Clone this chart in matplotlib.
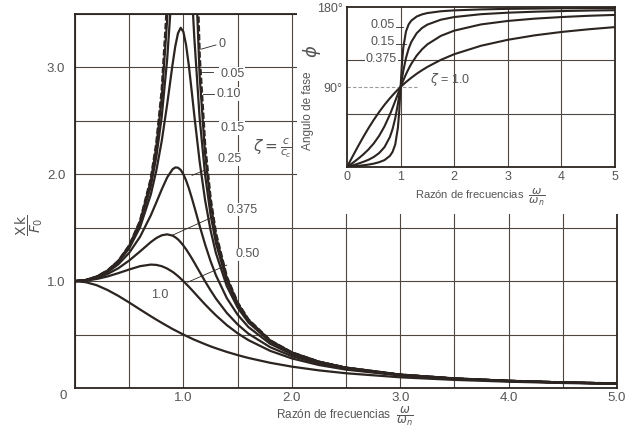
import numpy as np
import matplotlib.pyplot as plt

plt.rcParams['font.family'] = ['Liberation Sans', 'DejaVu Sans']
plt.rcParams['mathtext.fontset'] = 'dejavusans'

# razon de frecuencias (curvas de amplitud)
r_main = [0, 0.1, 0.2, 0.3, 0.4, 0.5, 0.6, 0.7, 0.75, 0.8, 0.85, 0.9, 0.925, 0.95, 0.975,
          1.0, 1.025, 1.05, 1.075, 1.1, 1.15, 1.2, 1.25, 1.3, 1.4, 1.5, 1.6, 1.8, 2.0,
          2.25, 2.5, 3.0, 3.5, 4.0, 4.5, 5.0]

amp_z0 = [1.000, 1.010, 1.042, 1.099, 1.190, 1.333, 1.563, 1.961, 2.286, 2.778, 3.604, 5.263,
          6.926, 10.26, 20.25, np.nan, 19.75, 9.756, 6.426, 4.762, 3.101, 2.273, 1.778, 1.449,
          1.042, 0.800, 0.641, 0.446, 0.333, 0.246, 0.190, 0.125, 0.089, 0.067, 0.052, 0.042]
amp_z005 = [1.000, 1.010, 1.041, 1.098, 1.189, 1.330, 1.556, 1.943, 2.253, 2.712, 3.446, 4.757,
            5.832, 7.346, 9.150, 10.00, 8.747, 6.815, 5.287, 4.218, 2.921, 2.193, 1.736, 1.424,
            1.031, 0.794, 0.638, 0.445, 0.333, 0.246, 0.190, 0.125, 0.089, 0.067, 0.052, 0.042]
amp_z010 = [1.000, 1.010, 1.041, 1.097, 1.185, 1.322, 1.536, 1.891, 2.162, 2.538, 3.073, 3.821,
            4.261, 4.683, 4.971, 5.000, 4.736, 4.279, 3.768, 3.288, 2.525, 1.995, 1.625, 1.356,
            1.000, 0.778, 0.628, 0.441, 0.330, 0.245, 0.190, 0.125, 0.089, 0.067, 0.052, 0.042]
amp_z015 = [1.000, 1.010, 1.040, 1.094, 1.179, 1.307, 1.504, 1.813, 2.033, 2.311, 2.653, 3.029,
            3.197, 3.320, 3.371, 3.333, 3.209, 3.019, 2.793, 2.557, 2.117, 1.759, 1.479, 1.262,
            0.954, 0.753, 0.613, 0.434, 0.327, 0.243, 0.189, 0.124, 0.089, 0.067, 0.052, 0.042]
amp_z025 = [1.000, 1.009, 1.036, 1.084, 1.158, 1.265, 1.415, 1.617, 1.736, 1.858, 1.970, 2.047,
            2.064, 2.062, 2.041, 2.000, 1.942, 1.870, 1.787, 1.699, 1.517, 1.344, 1.189, 1.055,
            0.842, 0.686, 0.570, 0.414, 0.316, 0.237, 0.185, 0.123, 0.088, 0.066, 0.052, 0.041]
amp_z0375 = [1.000, 1.007, 1.029, 1.067, 1.121, 1.193, 1.278, 1.366, 1.403, 1.429, 1.438, 1.426,
             1.411, 1.391, 1.364, 1.333, 1.298, 1.259, 1.218, 1.175, 1.086, 0.998, 0.915, 0.837,
             0.703, 0.595, 0.508, 0.382, 0.298, 0.227, 0.179, 0.120, 0.087, 0.065, 0.051, 0.041]
amp_z05 = [1.000, 1.005, 1.020, 1.044, 1.075, 1.109, 1.140, 1.155, 1.152, 1.140, 1.118, 1.087,
           1.068, 1.047, 1.024, 1.000, 0.974, 0.948, 0.921, 0.893, 0.837, 0.782, 0.730, 0.680,
           0.589, 0.512, 0.448, 0.348, 0.277, 0.215, 0.172, 0.117, 0.085, 0.064, 0.051, 0.041]
amp_z1 = [1.000, 0.990, 0.962, 0.917, 0.862, 0.800, 0.735, 0.671, 0.640, 0.610, 0.581, 0.552,
          0.539, 0.526, 0.513, 0.500, 0.488, 0.476, 0.464, 0.452, 0.431, 0.410, 0.390, 0.372,
          0.338, 0.308, 0.281, 0.236, 0.200, 0.165, 0.138, 0.100, 0.076, 0.059, 0.047, 0.038]

# angulo de fase (recuadro)
r_phase = [0, 0.1, 0.2, 0.3, 0.4, 0.5, 0.6, 0.7, 0.8, 0.85, 0.9, 0.95, 0.975, 1.0, 1.025,
           1.05, 1.1, 1.15, 1.2, 1.3, 1.4, 1.5, 1.75, 2.0, 2.5, 3.0, 3.5, 4.0, 4.5, 5.0]
phase_z005 = [0, 0.6, 1.2, 1.9, 2.7, 3.8, 5.4, 7.8, 12.5, 17.0, 25.3, 44.3, 63.1, 90, 116.3,
              134.3, 152.4, 160.4, 164.7, 169.3, 171.7, 173.2, 175.2, 176.2, 177.3, 177.9,
              178.2, 178.5, 178.7, 178.8]
phase_z015 = [0, 1.7, 3.6, 5.7, 8.1, 11.3, 15.7, 22.4, 33.7, 42.6, 54.9, 71.1, 80.4, 90, 99.4,
              108.0, 122.5, 133.1, 140.7, 150.5, 156.4, 160.2, 165.7, 168.7, 171.9, 173.6,
              174.7, 175.4, 176.0, 176.4]
phase_z0375 = [0, 4.3, 8.9, 13.9, 19.7, 26.6, 35.1, 45.8, 59.0, 66.5, 74.3, 82.2, 86.1, 90, 93.8,
               97.4, 104.3, 110.5, 116.1, 125.3, 132.4, 138.0, 147.5, 153.4, 160.4, 164.3,
               166.9, 168.7, 170.1, 171.1]
phase_z1 = [0, 11.4, 22.6, 33.4, 43.6, 53.1, 61.9, 70.0, 77.3, 80.7, 84.0, 87.1, 88.6, 90, 91.4,
            92.8, 95.5, 98.0, 100.4, 104.9, 108.9, 112.6, 120.5, 126.9, 136.4, 143.1, 148.1,
            151.9, 154.9, 157.4]

ink = '#2b2420'
grid_c = '#4f463f'
text_c = '#555555'
W, H = 627, 430

fig = plt.figure(figsize=(W / 100, H / 100), dpi=100)
fig.patch.set_facecolor('white')

# ---- grafico principal ----
ax = fig.add_axes([75 / W, (H - 388) / H, 542 / W, 374 / H])
ax.set_xlim(0, 5)
ax.set_ylim(0, 3.5)
ax.set_xticks(np.arange(0, 5.01, 0.5))
ax.set_xticklabels(['', '', '1.0', '', '2.0', '', '3.0', '', '4.0', '', '5.0'])
ax.set_yticks(np.arange(0, 3.51, 0.5))
ax.set_yticklabels(['', '', '1.0', '', '2.0', '', '3.0', ''])
ax.tick_params(length=0, labelsize=9.5, labelcolor=text_c)
ax.tick_params(axis='x', pad=3)
ax.tick_params(axis='y', pad=7)
ax.grid(True, color=grid_c, lw=0.8)
ax.set_axisbelow(True)
for s in ax.spines.values():
    s.set_color(ink)
    s.set_linewidth(1.3)

ax.plot(r_main, amp_z0, color=ink, lw=1.8, ls=(0, (2.5, 1)))
for amp in [amp_z005, amp_z010, amp_z015, amp_z025, amp_z0375, amp_z05, amp_z1]:
    ax.plot(r_main, amp, color=ink, lw=1.6)

ax.text(-0.11, -0.075, '0', fontsize=9.5, color=text_c, ha='center', va='center')
ax.text(0.498, -0.075, 'Razón de frecuencias  $\\dfrac{\\omega}{\\omega_n}$', transform=ax.transAxes,
        fontsize=8.5, color=text_c, ha='center', va='center')
ax.text(-0.42, 1.52, r'$\dfrac{\mathrm{X\,k}}{F_0}$', rotation=90, fontsize=10, color=text_c,
        ha='center', va='center', clip_on=False)

box = dict(facecolor='white', edgecolor='none', pad=0.6)
labels = [('0', 1.36, 3.22), ('0.05', 1.45, 2.94), ('0.10', 1.42, 2.75), ('0.15', 1.45, 2.43),
          ('0.25', 1.43, 2.14), ('0.375', 1.54, 1.67), ('0.50', 1.59, 1.25), ('1.0', 0.78, 0.87)]
for txt, x, y in labels:
    ax.text(x, y, txt, fontsize=9, color=text_c, ha='center', va='center', bbox=box, zorder=4)
leaders = [([1.16, 1.30], [3.17, 3.21]), ([1.17, 1.27], [2.96, 2.96]), ([1.18, 1.28], [2.75, 2.75]),
           ([1.08, 1.20], [1.99, 2.04]), ([0.90, 1.27], [1.43, 1.60]), ([1.04, 1.40], [0.99, 1.15])]
for xs, ys in leaders:
    ax.plot(xs, ys, color=ink, lw=0.6, zorder=3)
ax.text(1.82, 2.24, r'$\zeta = \frac{c}{c_c}$', fontsize=11, color=text_c, ha='center', va='center')

# ---- fondo blanco del recuadro ----
bg = fig.add_axes([297 / W, (H - 214) / H, 1 - 297 / W, 214 / H])
bg.set_facecolor('white')
bg.set_xticks([])
bg.set_yticks([])
for s in bg.spines.values():
    s.set_visible(False)

# ---- recuadro: angulo de fase ----
ins = fig.add_axes([347 / W, (H - 167) / H, 268 / W, 160 / H])
ins.set_xlim(0, 5)
ins.set_ylim(0, 180)
ins.set_xticks(range(6))
ins.set_xticklabels(['0', '1', '2', '3', '4', '5'])
ins.set_yticks([0, 90, 180])
ins.set_yticklabels(['', '90°', '180°'])
ins.tick_params(length=0, labelsize=9, labelcolor=text_c, pad=3)
for s in ins.spines.values():
    s.set_color(ink)
    s.set_linewidth(1.3)
for xv in [1, 2, 3, 4]:
    ins.axvline(xv, color=grid_c, lw=0.8, zorder=1)
for yv in [60, 120]:
    ins.axhline(yv, color=grid_c, lw=0.8, zorder=1)
ins.plot([0, 1.3], [90, 90], color='#999999', lw=0.8, ls=(0, (3, 2)), zorder=1)

for ph in [phase_z005, phase_z015, phase_z0375, phase_z1]:
    ins.plot(r_phase, ph, color=ink, lw=1.5, zorder=3)

ins.text(0.90, 160, '0.05', fontsize=9, color=text_c, ha='right', va='center')
ins.text(0.90, 140.5, '0.15', fontsize=9, color=text_c, ha='right', va='center')
ins.text(0.93, 121.5, '0.375', fontsize=9, color=text_c, ha='right', va='center', bbox=box, zorder=4)
ins.plot([0.92, 1.05], [157, 157], color=ink, lw=0.6)
ins.plot([0.92, 1.1], [138, 138], color=ink, lw=0.6)
ins.text(1.92, 99, r'$\zeta$ = 1.0', fontsize=9, color=text_c, ha='center', va='center')

ins.text(0.496, -0.19, 'Razón de frecuencias  $\\dfrac{\\omega}{\\omega_n}$', transform=ins.transAxes,
         fontsize=8, color=text_c, ha='center', va='center')
ins.text(-0.146, 0.35, 'Angulo de fase', transform=ins.transAxes, rotation=90,
         fontsize=8.5, color=text_c, ha='center', va='center')
ins.text(-0.13, 0.72, r'$\phi$', transform=ins.transAxes, rotation=90,
         fontsize=13, color=text_c, ha='center', va='center')

fig.savefig('out.png', dpi=100)
